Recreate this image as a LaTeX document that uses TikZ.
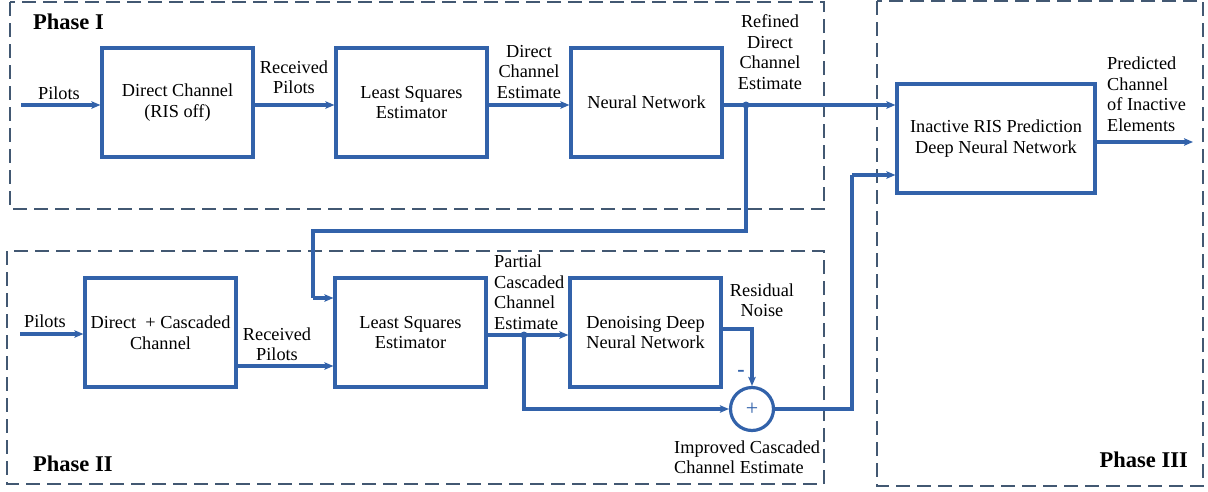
\documentclass[tikz,border=0pt]{standalone}
\usepackage{fontspec}
\setmainfont{Liberation Serif}
\usetikzlibrary{arrows.meta,calc}
\definecolor{lnblue}{RGB}{50,98,170}
\definecolor{phgray}{RGB}{66,88,114}
\begin{document}
\begin{tikzpicture}[x=1pt,y=-1pt,
  blockbox/.style={draw=lnblue,line width=3.2pt,minimum width=151pt,minimum height=109pt,inner sep=0pt,align=center,font=\fontsize{18.3}{20.5}\selectfont},
  phasebox/.style={draw=phgray,line width=2pt,dash pattern=on 14pt off 7pt},
  conn/.style={draw=lnblue,line width=3.2pt},
  arr/.style={conn,-{Stealth[length=9pt,width=7.5pt,inset=2pt]}},
  lbl/.style={inner sep=0pt,align=center,font=\fontsize{18.3}{20.5}\selectfont},
  lbll/.style={inner sep=0pt,align=left,font=\fontsize{18.3}{20.5}\selectfont},
  phlbl/.style={inner sep=0pt,font=\fontsize{22.5}{25}\selectfont\bfseries},
  jdot/.style={circle,fill=lnblue,inner sep=0pt,minimum size=7pt}
]
\useasboundingbox (0,0) rectangle (1208,491);
% phase boxes
\draw[phasebox] (10,2) rectangle (824,209);
\draw[phasebox] (7,251) rectangle (824,484);
\draw[phasebox] (877,1) rectangle (1203,486);
\node[phlbl,anchor=west] (ph1) at (33,22) {Phase I};
\node[phlbl,anchor=west] (ph2) at (33,464) {Phase II};
\node[phlbl,anchor=east] (ph3) at (1188,460) {Phase III};
% blocks
\node[blockbox] (dc1) at (177.5,102.5) {Direct Channel\\(RIS off)};
\node[blockbox] (ls1) at (411.5,102.5) {Least Squares\\Estimator};
\node[blockbox] (nn1) at (646.5,102.5) {Neural Network};
\node[blockbox,minimum width=198pt] (inact) at (996,138.5) {Inactive RIS Prediction\\Deep Neural Network};
\node[blockbox] (dc2) at (160.5,332.5) {Direct\ \ + Cascaded\\Channel};
\node[blockbox] (ls2) at (410.5,332.5) {Least Squares\\Estimator};
\node[blockbox] (dd2) at (645.5,332.5) {Denoising Deep\\Neural Network};
\node[circle,draw=lnblue,line width=3.2pt,minimum size=43pt,inner sep=0pt,text=lnblue,font=\fontsize{22}{22}\selectfont] (sum) at (752,409) {+};
% coordinates
\coordinate (p1) at (21,105);
\coordinate (j1) at (746,105);
\coordinate (c1) at (313,231);
\coordinate (c2) at (313,298);
\coordinate (p2) at (20,334);
\coordinate (r2) at (236,366);
\coordinate (j2) at (524,335);
\coordinate (rn) at (721,329);
\coordinate (k) at (852,175);
\coordinate (o) at (1193,142);
% phase I connectors
\draw[arr] (p1) -- (p1 -| dc1.west);
\draw[arr] (dc1.east |- p1) -- (ls1.west |- p1);
\draw[arr] (ls1.east |- p1) -- (nn1.west |- p1);
\draw[arr] (nn1.east |- p1) -- (inact.west |- p1);
\draw[conn] (j1) |- (c1) -- (c2);
\draw[arr] (c2) -- (c2 -| ls2.west);
\node[jdot] (d1) at (j1) {};
% phase II connectors
\draw[arr] (p2) -- (p2 -| dc2.west);
\draw[arr] (dc2.east |- r2) -- (ls2.west |- r2);
\draw[arr] (ls2.east |- j2) -- (dd2.west |- j2);
\draw[arr] (j2) |- (sum.west);
\node[jdot] (d2) at (j2) {};
\draw[arr] (dd2.east |- rn) -| (sum.north);
\draw[conn] (sum.east) -| (k);
\draw[arr] (k) -- (k -| inact.west);
\draw[arr] (inact.east |- o) -- (o);
% labels
\node[lbl] (l1) at (59,93) {Pilots};
\node[lbl] (l2) at (294,77) {Received\\Pilots};
\node[lbl] (l3) at (529,72) {Direct\\Channel\\Estimate};
\node[lbl] (l4) at (770,52) {Refined\\Direct\\Channel\\Estimate};
\node[lbll,anchor=west] (l5) at (1107,94) {Predicted\\Channel\\of Inactive\\Elements};
\node[lbl] (l6) at (45,321) {Pilots};
\node[lbl] (l7) at (277,344) {Received\\Pilots};
\node[lbll,anchor=west] (l8) at (494,292) {Partial\\Cascaded\\Channel\\Estimate};
\node[lbl] (l9) at (762,300) {Residual\\Noise};
\node[inner sep=0pt,text=lnblue,font=\fontsize{22}{22}\selectfont\bfseries] (l10) at (741,373) {-};
\node[lbll,anchor=west] (l11) at (674,457) {Improved Cascaded\\Channel Estimate};
\end{tikzpicture}
\end{document}
